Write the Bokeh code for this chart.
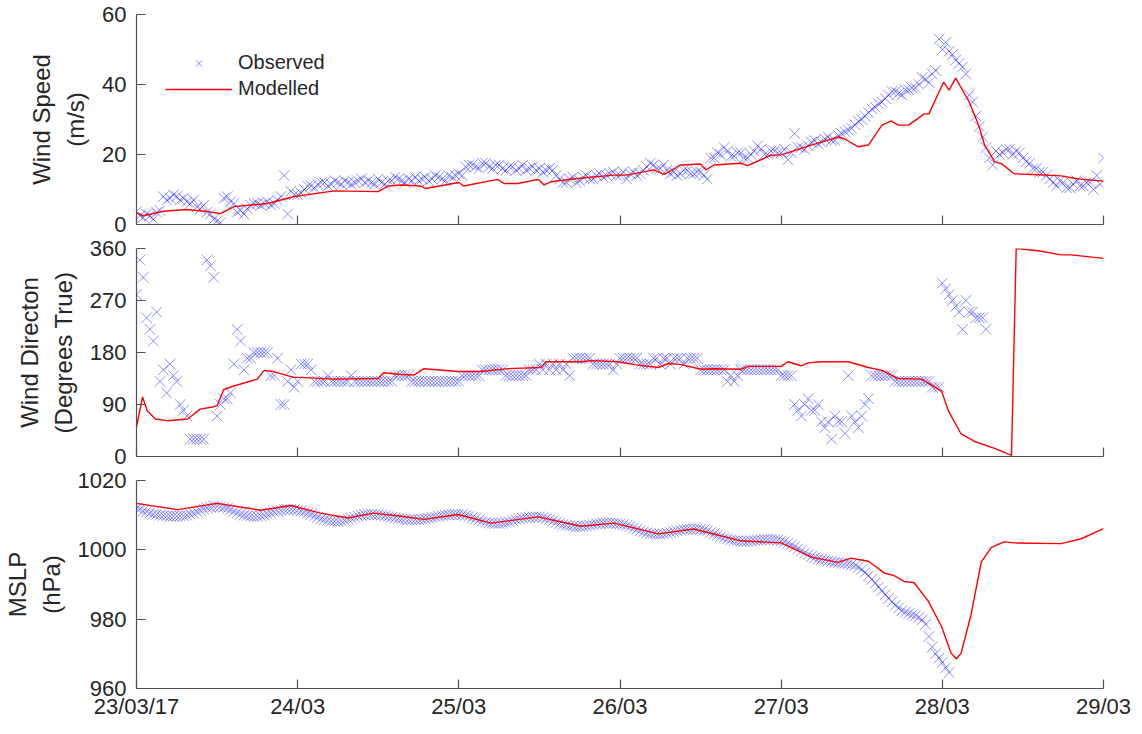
import numpy as np
from bokeh.plotting import figure
from bokeh.layouts import column
from bokeh.models import Range1d, FixedTicker, Legend, LegendItem
from bokeh.embed import file_html
from bokeh.resources import INLINE

FONT = "Liberation Sans"
TXT = "#262626"
AXC = "#505050"

# ---- x axis (hours since 23/03/17 00:00) ----
day_ticks = [0, 24, 48, 72, 96, 120, 144]
day_labels = ["23/03/17", "24/03", "25/03", "26/03", "27/03", "28/03", "29/03"]
obs_step_h = 0.5  # observations every 30 min

# ---- Observed wind speed (m/s), every 30 min from 23/03 00:00 ----
obs_ws = [
    3.7, 2.5, 2.0, 3.0, 2.5, 1.5, 3.5, 4.0, 8.0, 7.0, 7.5, 8.5,
    8.0, 7.0, 7.5, 6.5, 6.0, 7.0, 5.0, 4.5, 5.5, 3.5, 3.0, 1.5,
    1.0, 0.5, 7.5, 8.0, 6.5, 6.0, 3.5, 4.0, 3.0, 4.5, 5.5, 6.0,
    6.0, 5.5, 6.0, 6.5, 5.5, 6.0, 7.0, 8.0, 14.0, 3.0, 9.5, 8.5,
    8.5, 9.0, 10.0, 11.0, 11.0, 10.5, 11.5, 12.0, 12.0, 11.0, 11.5, 12.5,
    12.0, 11.5, 12.5, 12.0, 11.5, 12.0, 12.5, 13.0, 12.0, 12.5, 12.0, 11.5,
    13.0, 12.0, 11.5, 12.5, 12.5, 13.5, 13.0, 12.5, 12.0, 13.0, 12.5, 13.5,
    12.5, 13.0, 13.5, 12.5, 13.0, 14.0, 13.5, 13.0, 12.5, 14.0, 13.5, 14.0,
    14.5, 14.0, 16.5, 17.0, 17.0, 16.5, 16.0, 17.5, 17.5, 16.5, 16.0, 17.0,
    17.0, 16.0, 15.5, 16.5, 16.5, 15.5, 16.0, 17.0, 15.5, 16.0, 16.5, 15.5,
    16.0, 15.0, 15.5, 16.0, 15.5, 14.0, 13.0, 12.0, 12.0, 13.0, 13.5, 12.0,
    12.5, 13.5, 14.0, 13.0, 13.0, 14.0, 14.5, 13.5, 14.0, 14.5, 15.0, 14.0,
    14.0, 15.0, 13.0, 14.5, 15.0, 14.0, 14.5, 15.5, 16.5, 17.5, 17.0, 16.0,
    16.0, 17.0, 15.5, 14.5, 15.0, 14.0, 14.5, 15.5, 15.5, 14.5, 14.5, 15.0,
    15.0, 14.0, 13.0, 19.0, 19.0, 20.5, 20.0, 22.0, 21.0, 19.5, 19.5, 20.5,
    20.5, 19.0, 19.0, 20.0, 21.0, 22.5, 21.5, 20.0, 20.0, 21.0, 21.0, 20.5,
    20.5, 21.5, 18.5, 20.5, 26.0, 22.0, 22.0, 21.5, 22.5, 23.5, 24.0, 23.0,
    23.5, 24.5, 25.0, 24.0, 24.0, 25.5, 26.0, 26.5, 27.0, 27.5, 28.5, 29.5,
    30.0, 31.0, 32.0, 33.0, 33.5, 34.5, 35.0, 36.0, 37.0, 38.0, 38.0, 37.5,
    37.0, 38.5, 38.5, 39.0, 39.0, 40.0, 42.0, 41.5, 40.5, 43.0, 44.0, 53.0,
    50.0, 52.0, 49.5, 48.5, 47.0, 46.0, 45.0, 43.0, 37.0, 35.0, 31.0, 28.0,
    25.0, 22.0, 19.0, 17.0, 21.0, 20.0, 20.5, 21.5, 21.5, 20.0, 21.0, 20.5,
    19.0, 18.0, 17.5, 16.0, 16.0, 15.0, 15.0, 14.0, 13.0, 12.0, 11.0, 12.5,
    12.0, 10.5, 10.5, 11.5, 12.5, 11.0, 11.0, 12.0, 12.0, 10.0, 14.0, 11.5,
    19.0,
]

# ---- Observed wind direction (degrees true), every 30 min ----
obs_wd = [
    280, 340, 310, 240, 220, 200, 250, 130, 150, 110, 160, 140,
    130, 90, 80, 70, 30, 30, 30, 30, 30, 340, 330, 310,
    70, 90, 100, 100, 110, 160, 220, 200, 150, 170, 170, 180,
    180, 180, 180, 180, 140, 140, 170, 90, 90, 130, 150, 120,
    130, 160, 160, 160, 150, 130, 130, 130, 130, 140, 130, 130,
    130, 130, 130, 130, 140, 130, 130, 130, 130, 130, 130, 130,
    130, 130, 130, 130, 130, 140, 140, 140, 140, 140, 130, 130,
    130, 130, 130, 130, 130, 130, 130, 130, 130, 130, 130, 130,
    130, 140, 140, 140, 140, 140, 140, 150, 150, 150, 150, 150,
    150, 150, 140, 140, 140, 140, 140, 140, 140, 150, 150, 150,
    160, 150, 160, 150, 160, 150, 160, 150, 160, 140, 170, 170,
    170, 170, 170, 170, 160, 160, 160, 160, 160, 160, 150, 160,
    170, 170, 170, 170, 170, 170, 160, 160, 160, 160, 170, 170,
    160, 170, 170, 160, 170, 170, 170, 160, 170, 170, 170, 170,
    150, 150, 150, 150, 150, 150, 150, 150, 130, 140, 130, 140,
    150, 150, 150, 150, 150, 150, 150, 150, 150, 150, 150, 150,
    140, 140, 140, 140, 90, 80, 70, 90, 100, 80, 80, 90,
    60, 50, 60, 30, 70, 60, 60, 40, 140, 70, 60, 50,
    70, 90, 100, 140, 140, 140, 140, 140, 140, 140, 130, 130,
    130, 130, 130, 130, 130, 130, 130, 130, 130, 120, 120, 120,
    300, 290, 280, 270, 260, 250, 220, 270, 250, 250, 240, 240, 240, 220,
]

# ---- Observed MSLP (hPa), every 30 min ----
obs_p = [
    1012.0, 1011.7, 1011.2, 1011.0, 1010.6, 1010.3, 1010.2, 1010.0, 1009.9, 1009.8, 1009.7, 1009.7,
    1009.7, 1009.8, 1009.8, 1010.0, 1010.3, 1010.6, 1011.0, 1011.4, 1011.8, 1012.1, 1012.3, 1012.5,
    1012.5, 1012.4, 1012.2, 1011.9, 1011.5, 1011.1, 1010.7, 1010.3, 1010.0, 1009.8, 1009.7, 1009.6,
    1009.7, 1009.8, 1010.0, 1010.3, 1010.6, 1010.9, 1011.2, 1011.4, 1011.6, 1011.7, 1011.7, 1011.6,
    1011.4, 1011.2, 1010.9, 1010.6, 1010.2, 1009.8, 1009.4, 1009.0, 1008.7, 1008.5, 1008.3, 1008.2,
    1008.2, 1008.3, 1008.5, 1008.8, 1009.1, 1009.4, 1009.7, 1009.9, 1010.1, 1010.2, 1010.2, 1010.1,
    1010.1, 1010.0, 1009.8, 1009.6, 1009.4, 1009.2, 1009.0, 1008.9, 1008.8, 1008.7, 1008.7, 1008.7,
    1008.7, 1008.8, 1008.9, 1009.1, 1009.3, 1009.5, 1009.7, 1009.9, 1010.0, 1010.1, 1010.2, 1010.2,
    1010.2, 1010.1, 1009.9, 1009.6, 1009.3, 1009.0, 1008.6, 1008.3, 1008.0, 1007.8, 1007.7, 1007.6,
    1007.6, 1007.7, 1007.9, 1008.1, 1008.4, 1008.7, 1008.9, 1009.1, 1009.3, 1009.4, 1009.5, 1009.5,
    1009.5, 1009.3, 1009.0, 1008.7, 1008.3, 1007.9, 1007.6, 1007.3, 1007.1, 1006.9, 1006.8, 1006.7,
    1006.7, 1006.8, 1006.9, 1007.1, 1007.3, 1007.5, 1007.6, 1007.7, 1007.7, 1007.7, 1007.7, 1007.6,
    1007.5, 1007.3, 1007.0, 1006.7, 1006.3, 1005.9, 1005.5, 1005.2, 1004.9, 1004.7, 1004.6, 1004.5,
    1004.5, 1004.6, 1004.8, 1005.0, 1005.3, 1005.5, 1005.7, 1005.9, 1006.0, 1006.0, 1006.0, 1006.0,
    1005.9, 1005.7, 1005.4, 1005.0, 1004.6, 1004.2, 1003.8, 1003.5, 1003.2, 1002.9, 1002.7, 1002.6,
    1002.5, 1002.5, 1002.5, 1002.6, 1002.7, 1002.8, 1002.9, 1003.0, 1003.0, 1003.0, 1002.9, 1002.8,
    1002.6, 1002.3, 1001.9, 1001.4, 1000.9, 1000.3, 999.7, 999.1, 998.6, 998.1, 997.7, 997.4,
    997.2, 997.0, 996.8, 996.6, 996.4, 996.3, 996.2, 996.1, 996.0, 995.8, 995.5, 995.0,
    994.3, 993.5, 992.5, 991.5, 990.4, 989.3, 988.2, 987.1, 986.0, 985.0, 984.0, 983.2,
    982.5, 982.0, 981.6, 981.3, 981.0, 980.5, 979.8, 978.5, 975.0, 972.0, 970.0, 968.8,
    967.5, 966.0, 964.6,
]

# ---- Modelled series: (hours, value) ----
mod_ws_h = [0, 1, 4, 7.5, 10.5, 12.5, 14.5, 19.5, 23.5, 29.5,
            36, 37.5, 39.5, 42.3, 43, 48, 48.7, 53.8, 54.7, 56.8,
            59.8, 60.7, 61.7, 66, 71, 73, 77, 78.6, 81, 84,
            84.8, 86, 90, 91, 94.5, 96, 100.5, 104.5, 105.4, 107.5,
            109, 111, 112.4, 113.4, 115, 117.3, 118, 120.2, 121, 122,
            124, 125.4, 126.3, 127.8, 128.8, 130.7, 134.3, 137.7, 140.3, 144]
mod_ws = [3.4, 2.5, 3.8, 4.3, 3.7, 3.1, 5.1, 6.0, 8.0, 9.6,
          9.4, 11.0, 11.3, 11.0, 10.3, 12.0, 11.0, 12.9, 11.7, 11.7,
          12.9, 11.3, 12.2, 13.2, 14.1, 14.1, 15.6, 14.3, 17.0, 17.3,
          15.6, 17.0, 17.5, 16.8, 19.8, 19.9, 22.7, 25.0, 24.5, 22.2,
          22.7, 28.4, 29.6, 28.4, 28.4, 31.6, 31.6, 40.7, 38.4, 41.8,
          35.0, 28.4, 22.7, 17.9, 17.4, 14.5, 14.2, 13.9, 13.0, 12.4]

mod_wd_h = [0, 0.9, 1.6, 2.8, 4.6, 7.6, 9.5, 11.5, 12, 13,
            14.5, 18, 19, 20.4, 23.4, 24.4, 29.4, 36, 36.8, 39.4,
            41.3, 42.8, 47.9, 51.3, 55.3, 60.2, 61, 66.2, 67.7, 71.7,
            74.1, 77.7, 79.2, 81.1, 84.1, 86, 90, 91.1, 96, 97,
            99, 100, 102, 106, 109, 111, 113.4, 116.9, 119.9, 120.9,
            122.8, 124.8, 127.8, 130.3, 131, 134.3, 137.7, 139.2, 144]
mod_wd = [51, 103, 79, 65, 62, 65, 82, 86, 88, 116,
          122, 134, 149, 147, 137, 137, 134, 135, 145, 142,
          141, 152, 147, 147, 152, 154, 164, 164, 166, 164,
          159, 154, 161, 159, 151, 152, 151, 156, 156, 164,
          157, 162, 164, 164, 154, 149, 135, 134, 113, 79,
          39, 26, 14, 2, 360, 356, 349, 349, 343]

mod_p_h = [0, 6.1, 12, 18.5, 23, 27.4, 31.5, 35.3, 39.4, 42.8,
           47.9, 52.8, 59.8, 66.2, 71.1, 77.7, 83, 90, 96, 100.5,
           104.5, 106.4, 109, 111.4, 112.8, 114.3, 115.8, 117.9, 119.9, 121.3,
           122.1, 122.8, 124.3, 125.8, 127.3, 129.2, 130.7, 137.7, 140.7, 144]
mod_p = [1013.4, 1011.6, 1013.4, 1011.4, 1012.8, 1010.6, 1009.2, 1010.6, 1009.7, 1008.8,
         1010.2, 1007.7, 1009.5, 1006.8, 1007.7, 1004.6, 1006.0, 1002.6, 1002.0, 997.9,
         996.4, 997.6, 996.7, 993.3, 992.6, 990.9, 990.5, 985.2, 977.8, 970.2,
         968.5, 970.2, 981.5, 996.5, 1000.7, 1002.3, 1002.0, 1001.8, 1003.2, 1006.1]

ws_ticks = [0, 20, 40, 60]
wd_ticks = [0, 90, 180, 270, 360]
p_ticks = [960, 980, 1000, 1020]


def obs_hours(vals):
    return np.arange(len(vals)) * obs_step_h


def make_panel(yr, yticks, ylabel, show_x, top, bottom, fh):
    p = figure(frame_width=967, frame_height=fh,
               x_range=Range1d(0, 144), y_range=Range1d(*yr),
               output_backend="svg", toolbar_location=None,
               min_border_left=128, min_border_right=31,
               min_border_top=top, min_border_bottom=bottom)
    p.outline_line_color = None
    p.grid.visible = False
    p.background_fill_color = "white"
    p.border_fill_color = "white"
    for ax in (p.xaxis[0], p.yaxis[0]):
        ax.axis_line_color = AXC
        ax.axis_line_width = 1.2
        ax.major_tick_line_color = AXC
        ax.major_tick_line_width = 1.2
        ax.major_tick_in = 9
        ax.major_tick_out = 0
        ax.minor_tick_line_color = None
        ax.major_label_text_font = FONT
        ax.major_label_text_font_size = "22px"
        ax.major_label_text_color = TXT
    p.xaxis.ticker = FixedTicker(ticks=day_ticks)
    p.xaxis.major_label_overrides = {t: l for t, l in zip(day_ticks, day_labels)}
    if show_x:
        p.xaxis.major_label_standoff = 5
    else:
        # ticks only, no labels on the upper panels
        p.xaxis.major_label_text_font_size = "1px"
        p.xaxis.major_label_text_color = None
        p.xaxis.major_label_standoff = 0
    p.yaxis.ticker = FixedTicker(ticks=yticks)
    p.yaxis.major_label_standoff = 10
    p.yaxis.axis_label = ylabel
    p.yaxis.axis_label_text_font = FONT
    p.yaxis.axis_label_text_font_size = "24px"
    p.yaxis.axis_label_text_font_style = "normal"
    p.yaxis.axis_label_text_color = TXT
    p.yaxis.axis_label_standoff = 10
    p.yaxis.axis_label_text_line_height = 1.25
    return p


def add_series(p, t_obs, v_obs, t_mod, v_mod):
    r_obs = p.scatter(t_obs, v_obs, marker="x", size=15,
                      line_color="#0000ff", line_alpha=0.45, line_width=1)
    r_mod = p.line(t_mod, v_mod, line_color="#ff0000", line_width=1.4)
    return r_obs, r_mod


p1 = make_panel((0, 60), ws_ticks, "Wind Speed\n(m/s)", False, 14, 13, 210)
r1o, r1m = add_series(p1, obs_hours(obs_ws), obs_ws, mod_ws_h, mod_ws)
legend = Legend(items=[LegendItem(label="Observed", renderers=[r1o]),
                       LegendItem(label="Modelled", renderers=[r1m])],
                location=(21, 116), padding=8,
                glyph_width=67, glyph_height=22, label_height=22,
                label_standoff=6, spacing=3,
                label_text_font=FONT, label_text_font_size="20px",
                label_text_color=TXT,
                background_fill_alpha=0, border_line_alpha=0)
p1.add_layout(legend)

p2 = make_panel((0, 360), wd_ticks, "Wind Directon\n(Degrees True)", False, 11, 13, 208)
add_series(p2, obs_hours(obs_wd), obs_wd, mod_wd_h, mod_wd)

p3 = make_panel((960, 1020), p_ticks, "MSLP\n(hPa)", True, 11, 30, 208)
add_series(p3, obs_hours(obs_p), obs_p, mod_p_h, mod_p)

layout = column(p1, p2, p3, spacing=0)

open("out.html", "w").write(file_html(layout, INLINE))
